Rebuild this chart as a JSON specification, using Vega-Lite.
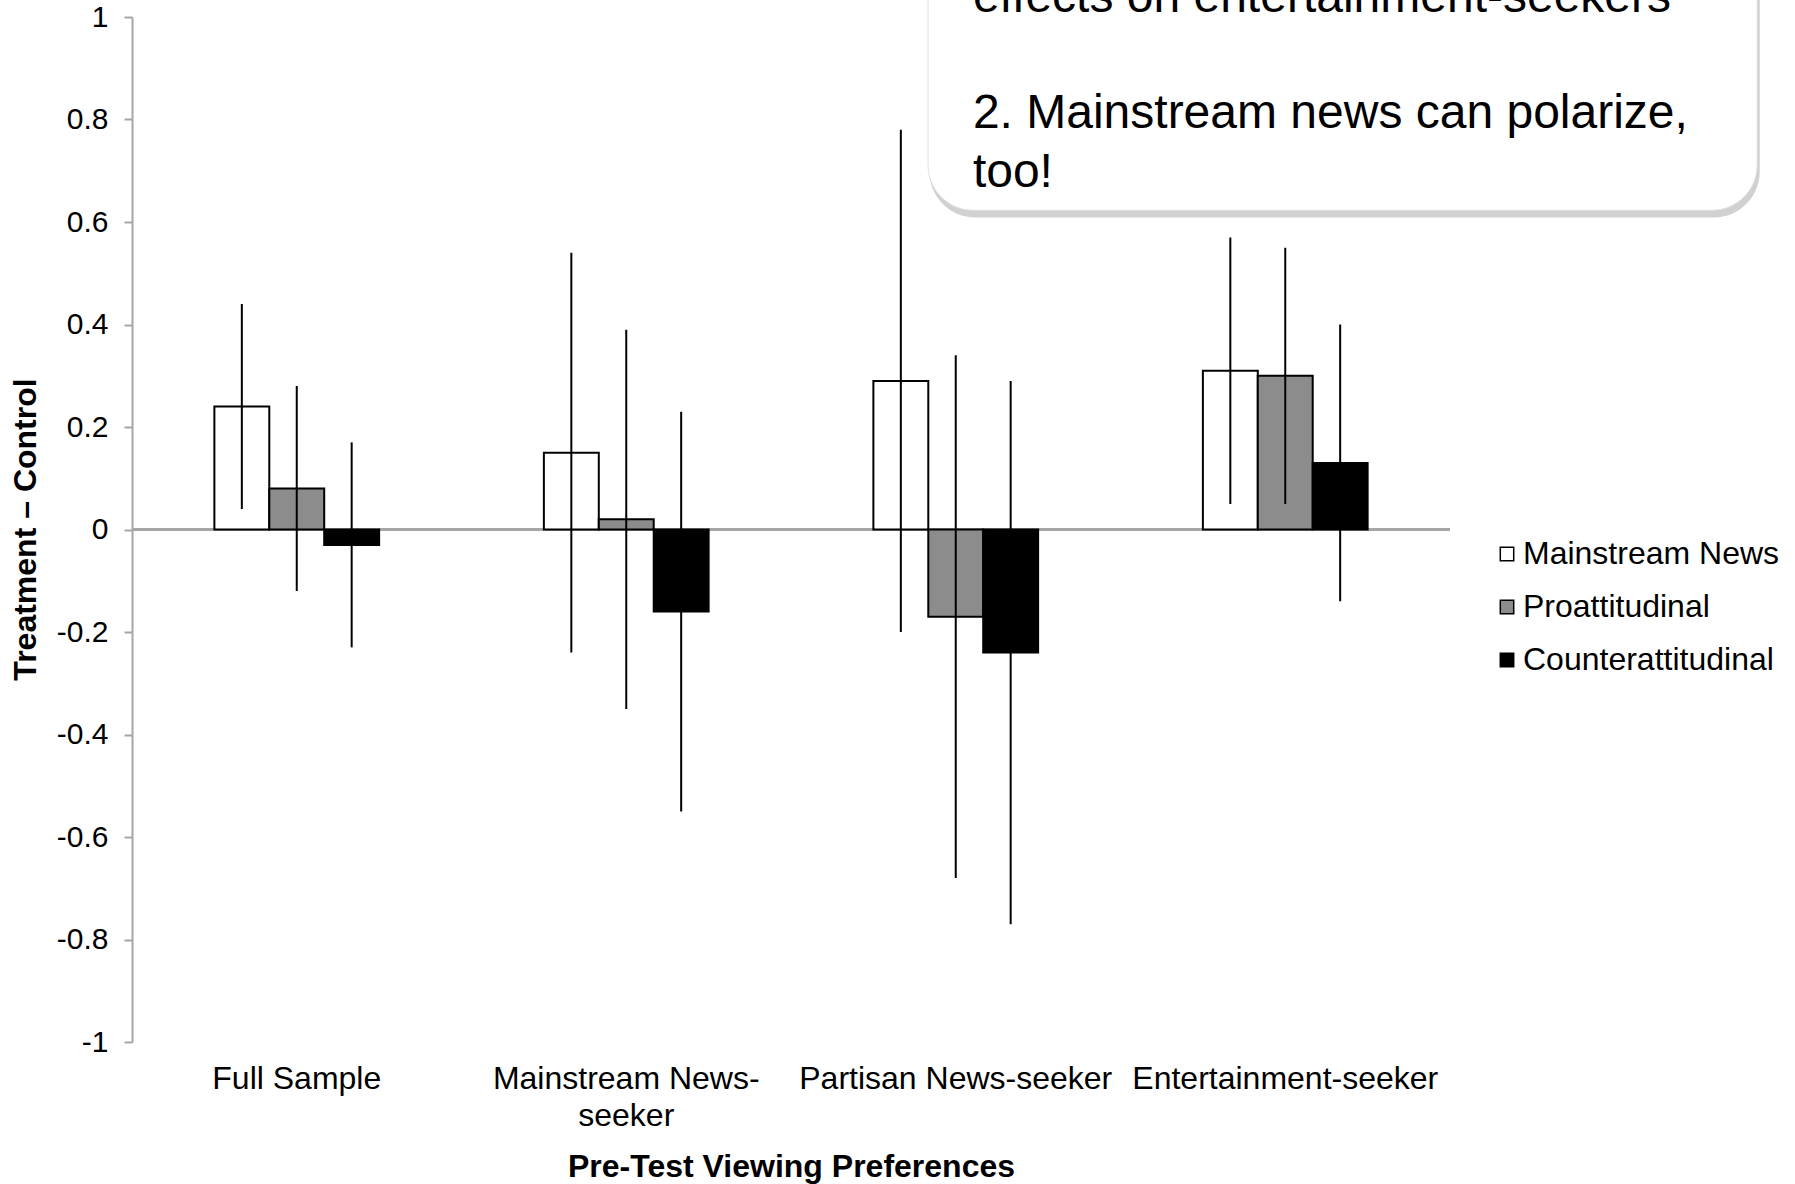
{
  "$schema": "https://vega.github.io/schema/vega-lite/v6.json",
  "width": 1318,
  "height": 1025,
  "autosize": {"type": "none"},
  "padding": {"left": 132, "top": 17, "right": 345, "bottom": 142},
  "background": "white",
  "config": {"font": "Liberation Sans", "view": {"stroke": null}},
  "datasets": {
    "bars": [
      {"group": "Full Sample", "type": "Mainstream News", "value": 0.24, "lo": 0.04, "hi": 0.44},
      {"group": "Full Sample", "type": "Proattitudinal", "value": 0.08, "lo": -0.12, "hi": 0.28},
      {"group": "Full Sample", "type": "Counterattitudinal", "value": -0.03, "lo": -0.23, "hi": 0.17},
      {"group": "Mainstream News-seeker", "type": "Mainstream News", "value": 0.15, "lo": -0.24, "hi": 0.54},
      {"group": "Mainstream News-seeker", "type": "Proattitudinal", "value": 0.02, "lo": -0.35, "hi": 0.39},
      {"group": "Mainstream News-seeker", "type": "Counterattitudinal", "value": -0.16, "lo": -0.55, "hi": 0.23},
      {"group": "Partisan News-seeker", "type": "Mainstream News", "value": 0.29, "lo": -0.2, "hi": 0.78},
      {"group": "Partisan News-seeker", "type": "Proattitudinal", "value": -0.17, "lo": -0.68, "hi": 0.34},
      {"group": "Partisan News-seeker", "type": "Counterattitudinal", "value": -0.24, "lo": -0.77, "hi": 0.29},
      {"group": "Entertainment-seeker", "type": "Mainstream News", "value": 0.31, "lo": 0.05, "hi": 0.57},
      {"group": "Entertainment-seeker", "type": "Proattitudinal", "value": 0.3, "lo": 0.05, "hi": 0.55},
      {"group": "Entertainment-seeker", "type": "Counterattitudinal", "value": 0.13, "lo": -0.14, "hi": 0.4}
    ],
    "note": [
      {"x1": 0.604, "x2": 1.233, "sx1": 0.605, "sx2": 1.235, "top": 1.3, "bottom": 0.623, "sbottom": 0.609}
    ],
    "notetext": [
      {"tx": 0.638, "ty": 1.0098, "text": "effects on entertainment-seekers"},
      {"tx": 0.638, "ty": 0.7834, "text": ["2. Mainstream news can polarize,", "too!"]}
    ]
  },
  "layer": [
    {
      "data": {"name": "bars"},
      "mark": {"type": "rule", "color": "#a6a6a6", "strokeWidth": 2},
      "encoding": {
        "y": {
          "datum": 0, "type": "quantitative",
          "scale": {"domain": [-1, 1], "nice": false},
          "axis": {
            "title": "Treatment – Control",
            "values": [-1, -0.8, -0.6, -0.4, -0.2, 0, 0.2, 0.4, 0.6, 0.8, 1],
            "labelExpr": "'' + datum.value",
            "grid": false,
            "domainColor": "#a6a6a6", "domainWidth": 2,
            "tickColor": "#a6a6a6", "tickSize": 8, "tickWidth": 2,
            "labelFontSize": 30, "labelColor": "black", "labelPadding": 16,
            "titleFontSize": 32, "titleFontWeight": "bold", "titleColor": "black",
            "titleX": -107, "titleY": 512, "titleAlign": "center", "titleBaseline": "middle", "titleAngle": -90
          }
        }
      }
    },
    {
      "data": {"name": "bars"},
      "mark": {"type": "bar", "stroke": "black", "strokeWidth": 2},
      "encoding": {
        "x": {
          "field": "group", "type": "nominal",
          "sort": ["Full Sample", "Mainstream News-seeker", "Partisan News-seeker", "Entertainment-seeker"],
          "scale": {"paddingInner": 0.5, "paddingOuter": 0.25},
          "axis": {
            "title": "Pre-Test Viewing Preferences",
            "domain": false, "ticks": false,
            "labelAngle": 0, "labelFontSize": 32, "labelColor": "black", "labelLimit": 500,
            "labelPadding": 21, "labelBaseline": "top", "labelLineHeight": 37,
            "labelExpr": "datum.label == 'Mainstream News-seeker' ? ['Mainstream News-', 'seeker'] : datum.label",
            "titleFontSize": 32, "titleFontWeight": "bold", "titleColor": "black",
            "titleY": 134, "titleBaseline": "alphabetic"
          }
        },
        "xOffset": {
          "field": "type", "type": "nominal",
          "sort": ["Mainstream News", "Proattitudinal", "Counterattitudinal"],
          "scale": {"paddingInner": 0, "paddingOuter": 0}
        },
        "y": {
          "field": "value", "type": "quantitative",
          "scale": {"domain": [-1, 1], "nice": false}
        },
        "y2": {"datum": 0},
        "color": {
          "field": "type", "type": "nominal",
          "sort": ["Mainstream News", "Proattitudinal", "Counterattitudinal"],
          "scale": {"domain": ["Mainstream News", "Proattitudinal", "Counterattitudinal"], "range": ["#ffffff", "#8c8c8c", "#000000"]},
          "legend": {
            "title": null, "orient": "none", "legendX": 1359, "legendY": 521,
            "symbolType": "square", "symbolSize": 180, "symbolStrokeColor": "black", "symbolStrokeWidth": 1.5,
            "symbolOpacity": 1,
            "labelFontSize": 32, "labelColor": "black", "labelOffset": 0, "rowPadding": 21, "labelLimit": 400
          }
        }
      }
    },
    {
      "data": {"name": "bars"},
      "mark": {"type": "rule", "color": "black", "strokeWidth": 2},
      "encoding": {
        "x": {
          "field": "group", "type": "nominal",
          "sort": ["Full Sample", "Mainstream News-seeker", "Partisan News-seeker", "Entertainment-seeker"],
          "scale": {"paddingInner": 0.5, "paddingOuter": 0.25},
          "axis": null
        },
        "xOffset": {
          "field": "type", "type": "nominal",
          "sort": ["Mainstream News", "Proattitudinal", "Counterattitudinal"],
          "scale": {"paddingInner": 0, "paddingOuter": 0}
        },
        "y": {"field": "lo", "type": "quantitative", "scale": {"domain": [-1, 1], "nice": false}},
        "y2": {"field": "hi"}
      }
    },
    {
      "data": {"name": "note"},
      "mark": {"type": "rect", "fill": "#999999", "opacity": 0.45, "cornerRadius": 46},
      "encoding": {
        "x": {"field": "sx1", "type": "quantitative", "scale": {"domain": [0, 1], "nice": false, "zero": false}, "axis": null},
        "x2": {"field": "sx2"},
        "y": {"field": "sbottom", "type": "quantitative", "scale": {"domain": [-1, 1], "nice": false}},
        "y2": {"field": "top"}
      }
    },
    {
      "data": {"name": "note"},
      "mark": {"type": "rect", "fill": "white", "stroke": "#e2e2e2", "strokeWidth": 1, "cornerRadius": 45},
      "encoding": {
        "x": {"field": "x1", "type": "quantitative", "scale": {"domain": [0, 1], "nice": false, "zero": false}, "axis": null},
        "x2": {"field": "x2"},
        "y": {"field": "bottom", "type": "quantitative", "scale": {"domain": [-1, 1], "nice": false}},
        "y2": {"field": "top"}
      }
    },
    {
      "data": {"name": "notetext"},
      "mark": {"type": "text", "align": "left", "baseline": "alphabetic", "fontSize": 48, "lineHeight": 59, "color": "black"},
      "encoding": {
        "x": {"field": "tx", "type": "quantitative", "scale": {"domain": [0, 1], "nice": false, "zero": false}, "axis": null},
        "y": {"field": "ty", "type": "quantitative", "scale": {"domain": [-1, 1], "nice": false}},
        "text": {"field": "text"}
      }
    }
  ],
  "resolve": {"scale": {"x": "independent"}}
}
